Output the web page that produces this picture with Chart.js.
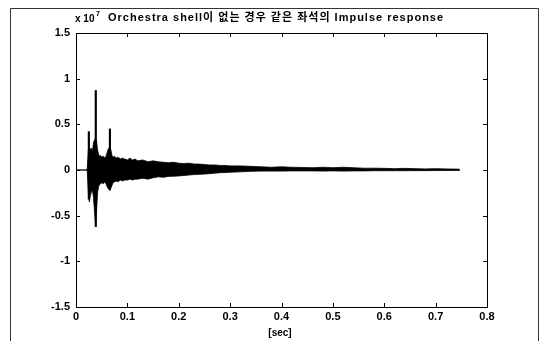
<!DOCTYPE html>
<html>
<head>
<meta charset="utf-8">
<script src="https://cdn.jsdelivr.net/npm/chart.js@4/dist/chart.umd.min.js"></script>
<style>
  html, body { margin: 0; padding: 0; background: #fff; }
  #wrap { width: 545px; height: 341px; position: relative; }
</style>
</head>
<body>
<div id="wrap"><canvas id="myChart" width="545" height="341"></canvas></div>
<script>
'use strict';

var times = [0, 0.021, 0.022, 0.024, 0.026, 0.028, 0.030, 0.032, 0.034, 0.036, 0.038, 0.040,
    0.042, 0.044, 0.046, 0.048, 0.050, 0.053, 0.056, 0.059, 0.062, 0.064, 0.066, 0.068,
    0.070, 0.072, 0.075, 0.078, 0.082, 0.086, 0.09, 0.095, 0.10, 0.105, 0.11, 0.115, 0.12,
    0.13, 0.14, 0.15, 0.16, 0.17, 0.18, 0.19, 0.20, 0.21, 0.22, 0.23, 0.24, 0.25, 0.26,
    0.27, 0.28, 0.29, 0.30, 0.32, 0.34, 0.36, 0.38, 0.40, 0.42, 0.44, 0.46, 0.48, 0.50,
    0.52, 0.54, 0.56, 0.58, 0.60, 0.62, 0.64, 0.66, 0.68, 0.70, 0.72, 0.74, 0.747];

// upper envelope (x 10^7)
var upperEnv = [0, 0, 0.02, 0.22, 0.25, 0.22, 0.24, 0.20, 0.30, 0.33, 0.34, 0.32,
    0.22, 0.17, 0.15, 0.16, 0.14, 0.15, 0.13, 0.16, 0.22, 0.24, 0.25, 0.22,
    0.16, 0.14, 0.15, 0.13, 0.14, 0.12, 0.13, 0.12, 0.11, 0.13, 0.11, 0.12, 0.10,
    0.11, 0.09, 0.10, 0.09, 0.085, 0.08, 0.085, 0.075, 0.07, 0.075, 0.065, 0.065, 0.06, 0.055,
    0.055, 0.05, 0.05, 0.045, 0.045, 0.04, 0.035, 0.03, 0.035, 0.03, 0.028, 0.025, 0.03, 0.025,
    0.03, 0.025, 0.02, 0.02, 0.018, 0.015, 0.018, 0.015, 0.012, 0.015, 0.012, 0.01, 0.008];

// lower envelope (x 10^7)
var lowerEnv = [0, 0, -0.02, -0.25, -0.35, -0.28, -0.24, -0.22, -0.30, -0.45, -0.60, -0.45,
    -0.25, -0.18, -0.16, -0.15, -0.14, -0.15, -0.13, -0.16, -0.20, -0.21, -0.20, -0.20,
    -0.17, -0.14, -0.13, -0.12, -0.13, -0.11, -0.12, -0.11, -0.11, -0.10, -0.11, -0.10, -0.10,
    -0.09, -0.10, -0.085, -0.075, -0.08, -0.07, -0.068, -0.065, -0.06, -0.055, -0.05, -0.047, -0.045, -0.04,
    -0.035, -0.03, -0.028, -0.025, -0.02, -0.015, -0.012, -0.012, -0.012, -0.01, -0.01, -0.01, -0.012, -0.01,
    -0.012, -0.01, -0.01, -0.008, -0.008, -0.008, -0.008, -0.007, -0.007, -0.006, -0.006, -0.005, -0.005];

// single reflections that stick out of the envelope
var spikeTimes = [0.025, 0.0385, 0.066];
var spikeTop = [0.42, 0.87, 0.45];
var spikeBottom = [-0.32, -0.62, -0.22];

var xTicks = [0, 0.1, 0.2, 0.3, 0.4, 0.5, 0.6, 0.7, 0.8];
var yTicks = [-1.5, -1, -0.5, 0, 0.5, 1, 1.5];

var FONT = "'Liberation Sans', Arial, 'Noto Sans CJK KR', sans-serif";

var matlabFrame = {
    id: 'matlabFrame',
    afterDraw: function (chart) {
        var ctx = chart.ctx;
        var a = chart.chartArea;
        var sx = chart.scales.x, sy = chart.scales.y;
        ctx.save();
        // outer figure frame
        ctx.strokeStyle = '#333';
        ctx.lineWidth = 1;
        ctx.beginPath();
        ctx.moveTo(10.5, 341);
        ctx.lineTo(10.5, 8.5);
        ctx.lineTo(538.5, 8.5);
        ctx.lineTo(538.5, 341);
        ctx.stroke();
        // axes box
        ctx.strokeStyle = '#000';
        ctx.strokeRect(Math.round(a.left) + 0.5, Math.round(a.top) + 0.5,
            Math.round(a.right - a.left), Math.round(a.bottom - a.top));
        // inward ticks
        ctx.beginPath();
        xTicks.forEach(function (v) {
            var px = Math.round(sx.getPixelForValue(v)) + 0.5;
            ctx.moveTo(px, a.bottom); ctx.lineTo(px, a.bottom - 4);
            ctx.moveTo(px, a.top); ctx.lineTo(px, a.top + 4);
        });
        yTicks.forEach(function (v) {
            var py = Math.round(sy.getPixelForValue(v)) + 0.5;
            ctx.moveTo(a.left, py); ctx.lineTo(a.left + 4, py);
            ctx.moveTo(a.right, py); ctx.lineTo(a.right - 4, py);
        });
        ctx.stroke();
        // exponent and title
        ctx.fillStyle = '#000';
        ctx.textBaseline = 'alphabetic';
        ctx.textAlign = 'left';
        ctx.font = 'bold 10px ' + FONT;
        ctx.fillText('x 10', 75, 22);
        ctx.font = 'bold 7px ' + FONT;
        ctx.fillText('7', 96, 16);
        ctx.font = 'bold 11px ' + FONT;
        ctx.letterSpacing = '1px';
        ctx.fillText('Orchestra shell이 없는 경우 같은 좌석의 Impulse response', 108, 21);
        ctx.letterSpacing = '0px';
        // x label
        ctx.font = 'bold 10px ' + FONT;
        ctx.textAlign = 'center';
        ctx.fillText('[sec]', 280, 336);
        ctx.restore();
    }
};

var upperData = times.map(function (t, i) { return { x: t, y: upperEnv[i] }; });
var lowerData = times.map(function (t, i) { return { x: t, y: lowerEnv[i] }; });
var spikeData = spikeTimes.map(function (t, i) { return { x: t, y: [spikeBottom[i], spikeTop[i]] }; });

new Chart(document.getElementById('myChart'), {
    type: 'line',
    data: {
        datasets: [{
            type: 'bar',
            data: spikeData,
            backgroundColor: '#000',
            barThickness: 1.5,
            order: 0
        }, {
            data: upperData,
            borderColor: '#000',
            backgroundColor: '#000',
            borderWidth: 0.8,
            pointRadius: 0,
            fill: '+1',
            order: 1
        }, {
            data: lowerData,
            borderColor: '#000',
            backgroundColor: '#000',
            borderWidth: 0.8,
            pointRadius: 0,
            fill: false,
            order: 2
        }]
    },
    options: {
        responsive: false,
        animation: false,
        layout: {
            padding: { left: 0, right: 58, top: 33, bottom: 0 }
        },
        plugins: {
            legend: { display: false },
            title: { display: false },
            tooltip: { enabled: false }
        },
        scales: {
            x: {
                type: 'linear',
                min: 0,
                max: 0.8,
                offset: false,
                afterFit: function (s) { s.height = 34; },
                afterBuildTicks: function (s) { s.ticks = xTicks.map(function (v) { return { value: v }; }); },
                grid: { display: false, drawTicks: false, offset: false },
                border: { display: false },
                ticks: {
                    padding: 3,
                    color: '#000',
                    font: { family: FONT, size: 11, weight: 'bold' },
                    maxRotation: 0,
                    callback: function (v) { return String(+v.toFixed(1)); }
                }
            },
            y: {
                type: 'linear',
                min: -1.5,
                max: 1.5,
                afterFit: function (s) { s.width = 76; },
                afterBuildTicks: function (s) { s.ticks = yTicks.map(function (v) { return { value: v }; }); },
                grid: { display: false, drawTicks: false },
                border: { display: false },
                ticks: {
                    padding: 6,
                    color: '#000',
                    font: { family: FONT, size: 11, weight: 'bold' },
                    callback: function (v) { return String(v); }
                }
            }
        }
    },
    plugins: [matlabFrame]
});
</script>
</body>
</html>
